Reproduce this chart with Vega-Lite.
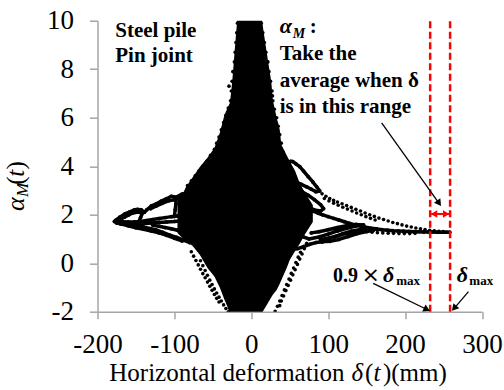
{
  "$schema": "https://vega.github.io/schema/vega-lite/v6.json",
  "width": 384.5,
  "height": 291,
  "autosize": {"type": "none"},
  "padding": {"left": 97.5, "top": 20.7, "right": 22, "bottom": 78.3},
  "background": "white",
  "config": {"view": {"stroke": null}, "font": "Liberation Serif"},
  "datasets": {
    "core": [
      {"d": -96, "lo": 1.25, "hi": 2.6}, {"d": -90, "lo": 1.05, "hi": 2.8}, {"d": -85, "lo": 0.95, "hi": 3.14},
      {"d": -76, "lo": 0.7, "hi": 3.55}, {"d": -67, "lo": 0.35, "hi": 3.97}, {"d": -57, "lo": -0.2, "hi": 4.35},
      {"d": -48, "lo": -0.55, "hi": 4.75}, {"d": -41, "lo": -1.0, "hi": 5.37}, {"d": -35, "lo": -1.5, "hi": 6.1},
      {"d": -31, "lo": -1.8, "hi": 6.4}, {"d": -28, "lo": -2.1, "hi": 6.6}, {"d": -26, "lo": -2.3, "hi": 7.1},
      {"d": -24, "lo": -2.3, "hi": 7.8}, {"d": -20, "lo": -2.3, "hi": 9.4}, {"d": -17, "lo": -2.3, "hi": 10.5},
      {"d": 11, "lo": -2.3, "hi": 10.5}, {"d": 13, "lo": -2.1, "hi": 10.2}, {"d": 19.5, "lo": -1.75, "hi": 8.8},
      {"d": 26, "lo": -1.4, "hi": 7.47}, {"d": 28, "lo": -1.3, "hi": 6.73}, {"d": 33, "lo": -1.1, "hi": 6.0},
      {"d": 37, "lo": -0.85, "hi": 5.5}, {"d": 39, "lo": -0.7, "hi": 4.9}, {"d": 46, "lo": -0.2, "hi": 4.45},
      {"d": 50, "lo": 0.13, "hi": 4.2}, {"d": 57, "lo": 0.5, "hi": 3.8}, {"d": 63, "lo": 0.8, "hi": 3.3},
      {"d": 70, "lo": 1.2, "hi": 2.9}, {"d": 76, "lo": 1.5, "hi": 2.6}, {"d": 80, "lo": 1.7, "hi": 2.4}
    ],
    "loops": [
      {"run": "B1", "d": -82, "a": 2.88}, {"run": "B1", "d": -90, "a": 2.85}, {"run": "B1", "d": -98, "a": 2.72},
      {"run": "B1", "d": -104, "a": 2.76}, {"run": "B1", "d": -110, "a": 2.66}, {"run": "B1", "d": -117, "a": 2.56},
      {"run": "B1", "d": -124, "a": 2.44}, {"run": "B1", "d": -130, "a": 2.36}, {"run": "B1", "d": -136, "a": 2.2},
      {"run": "B1", "d": -139, "a": 2.1}, {"run": "B1", "d": -143, "a": 2.2}, {"run": "B1", "d": -148, "a": 2.22},
      {"run": "B1", "d": -152, "a": 2.2}, {"run": "B1", "d": -158, "a": 2.12}, {"run": "B1", "d": -165, "a": 2.02},
      {"run": "B1", "d": -171, "a": 1.9}, {"run": "B1", "d": -176, "a": 1.78}, {"run": "B1", "d": -178, "a": 1.72},
      {"run": "B1", "d": -175, "a": 1.66}, {"run": "B1", "d": -168, "a": 1.62}, {"run": "B1", "d": -159, "a": 1.58},
      {"run": "B1", "d": -150, "a": 1.53}, {"run": "B1", "d": -141, "a": 1.49}, {"run": "B1", "d": -132, "a": 1.43},
      {"run": "B1", "d": -124, "a": 1.37}, {"run": "B1", "d": -115, "a": 1.27}, {"run": "B1", "d": -106, "a": 1.16},
      {"run": "B1", "d": -97, "a": 1.06}, {"run": "B1", "d": -89, "a": 0.96}, {"run": "B1", "d": -80, "a": 0.85},
      {"run": "B2", "d": -88, "a": 1.98}, {"run": "B2", "d": -96, "a": 1.95}, {"run": "B2", "d": -104, "a": 1.92},
      {"run": "B2", "d": -112, "a": 1.88}, {"run": "B2", "d": -120, "a": 1.84}, {"run": "B2", "d": -128, "a": 1.8},
      {"run": "B2", "d": -136, "a": 1.76}, {"run": "B2", "d": -144, "a": 1.72}, {"run": "B2", "d": -152, "a": 1.7},
      {"run": "B2", "d": -160, "a": 1.7}, {"run": "B2", "d": -168, "a": 1.71}, {"run": "B2", "d": -174, "a": 1.72},
      {"run": "B3", "d": -146, "a": 1.72}, {"run": "B3", "d": -144, "a": 1.88}, {"run": "B3", "d": -142, "a": 2.04},
      {"run": "B4", "d": -100, "a": 1.93}, {"run": "B4", "d": -99, "a": 2.2}, {"run": "B4", "d": -98, "a": 2.45}, {"run": "B4", "d": -98, "a": 2.7},
      {"run": "B5", "d": -170, "a": 1.62}, {"run": "B5", "d": -160, "a": 1.54}, {"run": "B5", "d": -150, "a": 1.46},
      {"run": "B5", "d": -140, "a": 1.4}, {"run": "B5", "d": -130, "a": 1.33}, {"run": "B5", "d": -120, "a": 1.25},
      {"run": "B5", "d": -110, "a": 1.15}, {"run": "B5", "d": -100, "a": 1.03}, {"run": "B5", "d": -90, "a": 0.92},
      {"run": "B6", "d": -90, "a": 1.75}, {"run": "B6", "d": -100, "a": 1.72}, {"run": "B6", "d": -110, "a": 1.7},
      {"run": "B6", "d": -120, "a": 1.68}, {"run": "B6", "d": -130, "a": 1.66}, {"run": "B6", "d": -140, "a": 1.63},
      {"run": "B6", "d": -150, "a": 1.62}, {"run": "B6", "d": -160, "a": 1.63}, {"run": "B6", "d": -170, "a": 1.68},
      {"run": "B7", "d": -88, "a": 1.3}, {"run": "B7", "d": -96, "a": 1.36}, {"run": "B7", "d": -104, "a": 1.42},
      {"run": "B7", "d": -112, "a": 1.47}, {"run": "B7", "d": -120, "a": 1.52}, {"run": "B7", "d": -128, "a": 1.56},
      {"run": "B8", "d": -92, "a": 2.7}, {"run": "B8", "d": -100, "a": 2.62}, {"run": "B8", "d": -108, "a": 2.57},
      {"run": "B8", "d": -116, "a": 2.47}, {"run": "B8", "d": -124, "a": 2.35}, {"run": "B8", "d": -131, "a": 2.25},
      {"run": "B9", "d": -176, "a": 1.72}, {"run": "B9", "d": -170, "a": 1.8}, {"run": "B9", "d": -165, "a": 1.9},
      {"run": "B9", "d": -160, "a": 1.98}, {"run": "B9", "d": -155, "a": 2.06}, {"run": "B9", "d": -150, "a": 2.1},
      {"run": "B9", "d": -145, "a": 2.1},
      {"run": "C1", "d": 44, "a": 3.6}, {"run": "C1", "d": 46, "a": 3.95}, {"run": "C1", "d": 48, "a": 4.12},
      {"run": "C1", "d": 51, "a": 4.2}, {"run": "C1", "d": 54, "a": 4.19}, {"run": "C1", "d": 58, "a": 4.1},
      {"run": "C1", "d": 63, "a": 3.98}, {"run": "C1", "d": 68, "a": 3.8}, {"run": "C1", "d": 74, "a": 3.57},
      {"run": "C1", "d": 80, "a": 3.35}, {"run": "C1", "d": 85, "a": 3.15}, {"run": "C1", "d": 89, "a": 2.98},
      {"run": "C1", "d": 84, "a": 2.95}, {"run": "C1", "d": 78, "a": 3.05}, {"run": "C1", "d": 72, "a": 3.15},
      {"run": "C1", "d": 65, "a": 3.25}, {"run": "C1", "d": 58, "a": 3.35}, {"run": "C1", "d": 52, "a": 3.45},
      {"run": "C1", "d": 47, "a": 3.5},
      {"run": "C2", "d": 50, "a": 3.15}, {"run": "C2", "d": 58, "a": 3.08}, {"run": "C2", "d": 66, "a": 2.95},
      {"run": "C2", "d": 74, "a": 2.8}, {"run": "C2", "d": 82, "a": 2.62}, {"run": "C2", "d": 90, "a": 2.42},
      {"run": "C2", "d": 94, "a": 2.25}, {"run": "C2", "d": 90, "a": 2.15}, {"run": "C2", "d": 82, "a": 2.2},
      {"run": "C2", "d": 72, "a": 2.35}, {"run": "C2", "d": 62, "a": 2.55}, {"run": "C2", "d": 54, "a": 2.75},
      {"run": "C3", "d": 72, "a": 2.25}, {"run": "C3", "d": 80, "a": 2.15}, {"run": "C3", "d": 87, "a": 2.06},
      {"run": "C3", "d": 93, "a": 1.99}, {"run": "C3", "d": 100, "a": 1.92}, {"run": "C3", "d": 107, "a": 1.85},
      {"run": "C3", "d": 114, "a": 1.78}, {"run": "C3", "d": 121, "a": 1.71}, {"run": "C3", "d": 128, "a": 1.64},
      {"run": "C3", "d": 135, "a": 1.58}, {"run": "C3", "d": 142, "a": 1.53}, {"run": "C3", "d": 149, "a": 1.48},
      {"run": "C3", "d": 156, "a": 1.44}, {"run": "C3", "d": 163, "a": 1.41}, {"run": "C3", "d": 170, "a": 1.38},
      {"run": "C3", "d": 177, "a": 1.36}, {"run": "C3", "d": 184, "a": 1.34}, {"run": "C3", "d": 191, "a": 1.33},
      {"run": "C3", "d": 198, "a": 1.32}, {"run": "C3", "d": 205, "a": 1.31}, {"run": "C3", "d": 212, "a": 1.3},
      {"run": "C3", "d": 218, "a": 1.3}, {"run": "C3", "d": 224, "a": 1.29}, {"run": "C3", "d": 230, "a": 1.29},
      {"run": "C3", "d": 236, "a": 1.29}, {"run": "C3", "d": 242, "a": 1.28}, {"run": "C3", "d": 248, "a": 1.28},
      {"run": "C3", "d": 254, "a": 1.28}, {"run": "C3", "d": 258, "a": 1.28},
      {"run": "F0", "d": 52, "a": 0.55}, {"run": "F0", "d": 60, "a": 0.6}, {"run": "F0", "d": 68, "a": 0.68},
      {"run": "F0", "d": 76, "a": 0.78}, {"run": "F0", "d": 84, "a": 0.85}, {"run": "F0", "d": 92, "a": 0.88},
      {"run": "F1", "d": 66, "a": 1.1}, {"run": "F1", "d": 75, "a": 1.0}, {"run": "F1", "d": 88, "a": 1.08},
      {"run": "F1", "d": 100, "a": 1.2}, {"run": "F1", "d": 112, "a": 1.33}, {"run": "F1", "d": 124, "a": 1.44},
      {"run": "F1", "d": 136, "a": 1.53}, {"run": "F1", "d": 146, "a": 1.58}, {"run": "F1", "d": 136, "a": 1.6},
      {"run": "F1", "d": 124, "a": 1.55}, {"run": "F1", "d": 112, "a": 1.47}, {"run": "F1", "d": 100, "a": 1.38},
      {"run": "F1", "d": 88, "a": 1.3}, {"run": "F1", "d": 78, "a": 1.25},
      {"run": "F2", "d": 92, "a": 0.88}, {"run": "F2", "d": 102, "a": 0.9}, {"run": "F2", "d": 114, "a": 0.98},
      {"run": "F2", "d": 126, "a": 1.1}, {"run": "F2", "d": 138, "a": 1.22}, {"run": "F2", "d": 150, "a": 1.31},
      {"run": "F2", "d": 159, "a": 1.36}, {"run": "F2", "d": 148, "a": 1.38}, {"run": "F2", "d": 136, "a": 1.33},
      {"run": "F2", "d": 124, "a": 1.24}, {"run": "F2", "d": 112, "a": 1.13}, {"run": "F2", "d": 100, "a": 1.03},
      {"run": "F2", "d": 90, "a": 0.98},
      {"run": "F3", "d": 108, "a": 1.08}, {"run": "F3", "d": 119, "a": 1.22}, {"run": "F3", "d": 130, "a": 1.32},
      {"run": "F3", "d": 142, "a": 1.39}, {"run": "F3", "d": 154, "a": 1.43}, {"run": "F3", "d": 163, "a": 1.42}
    ],
    "dots": [
      {"d": 92, "a": 2.86}, {"d": 97, "a": 2.76}, {"d": 102, "a": 2.67}, {"d": 107, "a": 2.59}, {"d": 112, "a": 2.52},
      {"d": 118, "a": 2.45}, {"d": 124, "a": 2.38}, {"d": 130, "a": 2.3}, {"d": 136, "a": 2.22}, {"d": 142, "a": 2.15},
      {"d": 148, "a": 2.07}, {"d": 154, "a": 2.0}, {"d": 160, "a": 1.93}, {"d": 166, "a": 1.86}, {"d": 172, "a": 1.8},
      {"d": 178, "a": 1.74}, {"d": 184, "a": 1.68}, {"d": 190, "a": 1.63}, {"d": 196, "a": 1.58}, {"d": 202, "a": 1.53},
      {"d": 208, "a": 1.49}, {"d": 214, "a": 1.45}, {"d": 220, "a": 1.42}, {"d": 226, "a": 1.39}, {"d": 232, "a": 1.36},
      {"d": 238, "a": 1.34}, {"d": 244, "a": 1.32}, {"d": 250, "a": 1.3},
      {"d": 95, "a": 2.67}, {"d": 101, "a": 2.57}, {"d": 107, "a": 2.47}, {"d": 113, "a": 2.39}, {"d": 119, "a": 2.31},
      {"d": 125, "a": 2.23}, {"d": 131, "a": 2.15}, {"d": 137, "a": 2.07}, {"d": 143, "a": 2.0}, {"d": 149, "a": 1.92},
      {"d": 155, "a": 1.85}, {"d": 161, "a": 1.78},
      {"d": 150, "a": 1.3}, {"d": 157, "a": 1.28}, {"d": 164, "a": 1.26}, {"d": 171, "a": 1.25}, {"d": 178, "a": 1.24},
      {"d": 185, "a": 1.23}, {"d": 192, "a": 1.22}, {"d": 199, "a": 1.22}, {"d": 206, "a": 1.22}, {"d": 213, "a": 1.23},
      {"d": -78, "a": 0.47}, {"d": -75, "a": 0.29}, {"d": -72, "a": 0.11}, {"d": -69, "a": -0.07}, {"d": -66, "a": -0.25},
      {"d": -63, "a": -0.43}, {"d": -60, "a": -0.6}, {"d": -57, "a": -0.78}, {"d": -54, "a": -0.95}, {"d": -51, "a": -1.12},
      {"d": -48, "a": -1.29}, {"d": -45, "a": -1.45}, {"d": -42, "a": -1.6},
      {"d": -66, "a": 0.1}, {"d": -63, "a": -0.1}, {"d": -60, "a": -0.3}, {"d": -57, "a": -0.5}, {"d": -54, "a": -0.7},
      {"d": -51, "a": -0.88}, {"d": -48, "a": -1.06}, {"d": -45, "a": -1.23}, {"d": -42, "a": -1.4}, {"d": -39, "a": -1.56},
      {"d": -36, "a": -1.72}, {"d": -33, "a": -1.87}, {"d": -30, "a": -2.0},
      {"d": 72, "a": 0.82}, {"d": 69, "a": 0.6}, {"d": 66, "a": 0.38}, {"d": 63, "a": 0.17}, {"d": 60, "a": -0.05},
      {"d": 57, "a": -0.27}, {"d": 54, "a": -0.48}, {"d": 51, "a": -0.7}, {"d": 48, "a": -0.92}, {"d": 45, "a": -1.13},
      {"d": 42, "a": -1.35}, {"d": 39, "a": -1.56}, {"d": 37, "a": -1.75},
      {"d": 64, "a": 0.45}, {"d": 61, "a": 0.25}, {"d": 58, "a": 0.03}, {"d": 55, "a": -0.2}, {"d": 52, "a": -0.42},
      {"d": 49, "a": -0.65}, {"d": 46, "a": -0.88}, {"d": 43, "a": -1.1}, {"d": 40, "a": -1.33}, {"d": 37, "a": -1.56},
      {"d": 34, "a": -1.78}, {"d": 31, "a": -1.98},
      {"d": -18, "a": 9.9}, {"d": -19, "a": 9.5}, {"d": -20, "a": 9.1}, {"d": -21, "a": 8.7}, {"d": -22, "a": 8.3},
      {"d": -24, "a": 7.9}, {"d": -25, "a": 7.5}, {"d": -26, "a": 7.1}, {"d": -27, "a": 6.7}, {"d": -30, "a": 6.4},
      {"d": -33, "a": 6.1}, {"d": -36, "a": 5.8}, {"d": -39, "a": 5.5}, {"d": -42, "a": 5.2}, {"d": -45, "a": 4.95},
      {"d": -48, "a": 4.7}, {"d": -53, "a": 4.45}, {"d": -58, "a": 4.2}, {"d": -63, "a": 4.0}, {"d": -68, "a": 3.8},
      {"d": -73, "a": 3.6}, {"d": -78, "a": 3.4}, {"d": -83, "a": 3.2},
      {"d": 13, "a": 9.9}, {"d": 15, "a": 9.5}, {"d": 17, "a": 9.1}, {"d": 19, "a": 8.7}, {"d": 21, "a": 8.3},
      {"d": 23, "a": 7.9}, {"d": 25, "a": 7.5}, {"d": 27, "a": 7.1}, {"d": 28, "a": 6.7}, {"d": 30, "a": 6.35},
      {"d": 33, "a": 6.0}, {"d": 35, "a": 5.65}, {"d": 37, "a": 5.3}, {"d": 39, "a": 4.95}, {"d": 41, "a": 4.6},
      {"d": 21.5, "a": 8.3}, {"d": 27.5, "a": 6.9}, {"d": 32.5, "a": 5.77}, {"d": 36, "a": 4.95}, {"d": -29, "a": 7.3}
    ],
    "limits": [
      {"d": 232.6, "name": "0.9 x delta max"},
      {"d": 258.5, "name": "delta max"}
    ]
  },
  "layer": [
    {
      "data": {"name": "core"},
      "mark": {"type": "area", "color": "black", "opacity": 1, "clip": true},
      "encoding": {
        "x": {
          "field": "d", "type": "quantitative",
          "scale": {"domain": [-200, 300], "nice": false, "zero": false},
          "axis": {
            "title": null, "values": [-200, -100, 0, 100, 200, 300], "grid": false,
            "domainColor": "#a6a6a6", "domainWidth": 1.5, "tickColor": "#a6a6a6", "tickWidth": 1.5, "tickSize": 7,
            "labelFont": "Liberation Serif", "labelFontSize": 27, "labelColor": "black", "labelPadding": 13,
            "labelFlush": false, "labelOverlap": false, "labelExpr": "'' + datum.value"
          }
        },
        "y": {
          "field": "lo", "type": "quantitative",
          "scale": {"domain": [-2, 10], "nice": false, "zero": false},
          "axis": {
            "title": null, "values": [-2, 0, 2, 4, 6, 8, 10], "grid": false,
            "domainColor": "#a6a6a6", "domainWidth": 1.5, "tickColor": "#a6a6a6", "tickWidth": 1.5, "tickSize": 8,
            "labelFont": "Liberation Serif", "labelFontSize": 27, "labelColor": "black", "labelPadding": 16,
            "labelFlush": false, "labelOverlap": false, "labelExpr": "'' + datum.value"
          }
        },
        "y2": {"field": "hi"}
      }
    },
    {
      "data": {"name": "loops"},
      "mark": {"type": "line", "color": "black", "strokeWidth": 3.5, "strokeJoin": "round", "strokeCap": "round", "clip": true},
      "encoding": {
        "x": {"field": "d", "type": "quantitative"},
        "y": {"field": "a", "type": "quantitative"},
        "detail": {"field": "run"},
        "order": {"value": null}
      }
    },
    {
      "data": {"name": "loops"},
      "mark": {"type": "circle", "color": "black", "size": 14, "opacity": 1, "clip": true},
      "encoding": {
        "x": {"field": "d", "type": "quantitative"},
        "y": {"field": "a", "type": "quantitative"}
      }
    },
    {
      "data": {"name": "dots"},
      "mark": {"type": "circle", "color": "black", "size": 13, "opacity": 1, "clip": true},
      "encoding": {
        "x": {"field": "d", "type": "quantitative"},
        "y": {"field": "a", "type": "quantitative"}
      }
    },
    {
      "data": {"name": "limits"},
      "mark": {"type": "rule", "color": "#ff0000", "strokeWidth": 2.5, "strokeDash": [7, 3.5]},
      "encoding": {
        "x": {"field": "d", "type": "quantitative"},
        "y": {"datum": -2},
        "y2": {"datum": 10}
      }
    },
    {
      "data": {"values": [{}]},
      "mark": {"type": "rule", "color": "#ff0000", "strokeWidth": 2},
      "encoding": {"x": {"datum": 234}, "x2": {"datum": 257}, "y": {"datum": 2.03}}
    },
    {
      "data": {"values": [{}]},
      "mark": {"type": "point", "shape": "triangle-up", "filled": true, "color": "#ff0000", "opacity": 1, "size": 55, "angle": 270},
      "encoding": {"x": {"datum": 237.6}, "y": {"datum": 2.03}}
    },
    {
      "data": {"values": [{}]},
      "mark": {"type": "point", "shape": "triangle-up", "filled": true, "color": "#ff0000", "opacity": 1, "size": 55, "angle": 90},
      "encoding": {"x": {"datum": 253.4}, "y": {"datum": 2.03}}
    },
    {
      "data": {"values": [{}]},
      "mark": {"type": "rule", "color": "black", "strokeWidth": 1.3},
      "encoding": {"x": {"datum": 169.5}, "y": {"datum": 5.79}, "x2": {"datum": 244.2}, "y2": {"datum": 2.47}}
    },
    {
      "data": {"values": [{}]},
      "mark": {"type": "point", "shape": "triangle-up", "filled": true, "color": "black", "opacity": 1, "size": 60, "angle": 145},
      "encoding": {"x": {"datum": 244.2}, "y": {"datum": 2.47}}
    },
    {
      "data": {"values": [{}]},
      "mark": {"type": "rule", "color": "black", "strokeWidth": 1.3},
      "encoding": {"x": {"datum": 158.5}, "y": {"datum": -0.83}, "x2": {"datum": 228.4}, "y2": {"datum": -1.91}}
    },
    {
      "data": {"values": [{}]},
      "mark": {"type": "point", "shape": "triangle-up", "filled": true, "color": "black", "opacity": 1, "size": 60, "angle": 116},
      "encoding": {"x": {"datum": 228.4}, "y": {"datum": -1.91}}
    },
    {
      "data": {"values": [{}]},
      "mark": {"type": "rule", "color": "black", "strokeWidth": 1.3},
      "encoding": {"x": {"datum": 282.4}, "y": {"datum": -1.17}, "x2": {"datum": 263.8}, "y2": {"datum": -1.86}}
    },
    {
      "data": {"values": [{}]},
      "mark": {"type": "point", "shape": "triangle-up", "filled": true, "color": "black", "opacity": 1, "size": 60, "angle": 221},
      "encoding": {"x": {"datum": 263.8}, "y": {"datum": -1.86}}
    },
    {
      "data": {"values": [{}]},
      "mark": {"type": "text", "font": "Liberation Serif", "fontSize": 21, "fontWeight": "bold", "align": "left", "baseline": "alphabetic", "color": "black"},
      "encoding": {"x": {"datum": -176.9}, "y": {"datum": 9.32}, "text": {"value": "Steel pile"}}
    },
    {
      "data": {"values": [{}]},
      "mark": {"type": "text", "font": "Liberation Serif", "fontSize": 21, "fontWeight": "bold", "align": "left", "baseline": "alphabetic", "color": "black"},
      "encoding": {"x": {"datum": -176.9}, "y": {"datum": 8.31}, "text": {"value": "Pin joint"}}
    },
    {
      "data": {"values": [{}]},
      "mark": {"type": "text", "font": "Liberation Serif", "fontSize": 22, "fontWeight": "bold", "fontStyle": "italic", "align": "left", "baseline": "alphabetic", "color": "black"},
      "encoding": {"x": {"datum": 36.9}, "y": {"datum": 9.48}, "text": {"value": "α"}}
    },
    {
      "data": {"values": [{}]},
      "mark": {"type": "text", "font": "Liberation Serif", "fontSize": 14, "fontWeight": "bold", "fontStyle": "italic", "align": "left", "baseline": "alphabetic", "color": "black"},
      "encoding": {"x": {"datum": 54}, "y": {"datum": 9.3}, "text": {"value": "M"}}
    },
    {
      "data": {"values": [{}]},
      "mark": {"type": "text", "font": "Liberation Serif", "fontSize": 21, "fontWeight": "bold", "align": "left", "baseline": "alphabetic", "color": "black"},
      "encoding": {"x": {"datum": 76}, "y": {"datum": 9.48}, "text": {"value": ":"}}
    },
    {
      "data": {"values": [{}]},
      "mark": {"type": "text", "font": "Liberation Serif", "fontSize": 21, "fontWeight": "bold", "align": "left", "baseline": "alphabetic", "color": "black"},
      "encoding": {"x": {"datum": 36.9}, "y": {"datum": 8.38}, "text": {"value": "Take the"}}
    },
    {
      "data": {"values": [{}]},
      "mark": {"type": "text", "font": "Liberation Serif", "fontSize": 21, "fontWeight": "bold", "align": "left", "baseline": "alphabetic", "color": "black"},
      "encoding": {"x": {"datum": 36.9}, "y": {"datum": 7.28}, "text": {"value": "average when  δ"}}
    },
    {
      "data": {"values": [{}]},
      "mark": {"type": "text", "font": "Liberation Serif", "fontSize": 21, "fontWeight": "bold", "align": "left", "baseline": "alphabetic", "color": "black"},
      "encoding": {"x": {"datum": 36.9}, "y": {"datum": 6.18}, "text": {"value": "is in this range"}}
    },
    {
      "data": {"values": [{}]},
      "mark": {"type": "text", "font": "Liberation Serif", "fontSize": 20, "fontWeight": "bold", "align": "left", "baseline": "alphabetic", "color": "black"},
      "encoding": {"x": {"datum": 106.2}, "y": {"datum": -0.76}, "text": {"value": "0.9"}}
    },
    {
      "data": {"values": [{}]},
      "mark": {"type": "text", "font": "DejaVu Sans", "fontSize": 22, "align": "center", "baseline": "alphabetic", "color": "black"},
      "encoding": {"x": {"datum": 155.4}, "y": {"datum": -0.76}, "text": {"value": "×"}}
    },
    {
      "data": {"values": [{}]},
      "mark": {"type": "text", "font": "Liberation Serif", "fontSize": 22, "fontWeight": "bold", "fontStyle": "italic", "align": "left", "baseline": "alphabetic", "color": "black"},
      "encoding": {"x": {"datum": 171.1}, "y": {"datum": -0.76}, "text": {"value": "δ"}}
    },
    {
      "data": {"values": [{}]},
      "mark": {"type": "text", "font": "Liberation Serif", "fontSize": 13, "fontWeight": "bold", "align": "left", "baseline": "alphabetic", "color": "black"},
      "encoding": {"x": {"datum": 188.5}, "y": {"datum": -0.9}, "text": {"value": "max"}}
    },
    {
      "data": {"values": [{}]},
      "mark": {"type": "text", "font": "Liberation Serif", "fontSize": 22, "fontWeight": "bold", "fontStyle": "italic", "align": "left", "baseline": "alphabetic", "color": "black"},
      "encoding": {"x": {"datum": 267.3}, "y": {"datum": -0.76}, "text": {"value": "δ"}}
    },
    {
      "data": {"values": [{}]},
      "mark": {"type": "text", "font": "Liberation Serif", "fontSize": 13, "fontWeight": "bold", "align": "left", "baseline": "alphabetic", "color": "black"},
      "encoding": {"x": {"datum": 283.5}, "y": {"datum": -0.9}, "text": {"value": "max"}}
    },
    {
      "data": {"values": [{}]},
      "mark": {"type": "text", "font": "Liberation Serif", "fontSize": 25, "align": "left", "baseline": "alphabetic", "color": "black"},
      "encoding": {"x": {"datum": -184.7}, "y": {"datum": -4.845}, "text": {"value": "Horizontal deformation"}}
    },
    {
      "data": {"values": [{}]},
      "mark": {"type": "text", "font": "Liberation Serif", "fontSize": 25, "fontStyle": "italic", "align": "left", "baseline": "alphabetic", "color": "black"},
      "encoding": {"x": {"datum": 130.4}, "y": {"datum": -4.845}, "text": {"value": "δ"}}
    },
    {
      "data": {"values": [{}]},
      "mark": {"type": "text", "font": "Liberation Serif", "fontSize": 25, "align": "left", "baseline": "alphabetic", "color": "black"},
      "encoding": {"x": {"datum": 147.7}, "y": {"datum": -4.845}, "text": {"value": "("}}
    },
    {
      "data": {"values": [{}]},
      "mark": {"type": "text", "font": "Liberation Serif", "fontSize": 25, "fontStyle": "italic", "align": "left", "baseline": "alphabetic", "color": "black"},
      "encoding": {"x": {"datum": 158.8}, "y": {"datum": -4.845}, "text": {"value": "t"}}
    },
    {
      "data": {"values": [{}]},
      "mark": {"type": "text", "font": "Liberation Serif", "fontSize": 25, "align": "left", "baseline": "alphabetic", "color": "black"},
      "encoding": {"x": {"datum": 171.2}, "y": {"datum": -4.845}, "text": {"value": ")(mm)"}}
    },
    {
      "data": {"values": [{}]},
      "mark": {"type": "text", "font": "Liberation Serif", "fontSize": 26, "fontStyle": "italic", "align": "left", "baseline": "alphabetic", "angle": 270, "color": "black"},
      "encoding": {"x": {"datum": -295.6}, "y": {"datum": 2.15}, "text": {"value": "α"}}
    },
    {
      "data": {"values": [{}]},
      "mark": {"type": "text", "font": "Liberation Serif", "fontSize": 17, "fontStyle": "italic", "align": "left", "baseline": "alphabetic", "angle": 270, "color": "black"},
      "encoding": {"x": {"datum": -290.4}, "y": {"datum": 2.73}, "text": {"value": "M"}}
    },
    {
      "data": {"values": [{}]},
      "mark": {"type": "text", "font": "Liberation Serif", "fontSize": 25, "align": "left", "baseline": "alphabetic", "angle": 270, "color": "black"},
      "encoding": {"x": {"datum": -295.6}, "y": {"datum": 3.23}, "text": {"value": "("}}
    },
    {
      "data": {"values": [{}]},
      "mark": {"type": "text", "font": "Liberation Serif", "fontSize": 25, "fontStyle": "italic", "align": "left", "baseline": "alphabetic", "angle": 270, "color": "black"},
      "encoding": {"x": {"datum": -295.6}, "y": {"datum": 3.57}, "text": {"value": "t"}}
    },
    {
      "data": {"values": [{}]},
      "mark": {"type": "text", "font": "Liberation Serif", "fontSize": 25, "align": "left", "baseline": "alphabetic", "angle": 270, "color": "black"},
      "encoding": {"x": {"datum": -295.6}, "y": {"datum": 3.86}, "text": {"value": ")"}}
    }
  ]
}
